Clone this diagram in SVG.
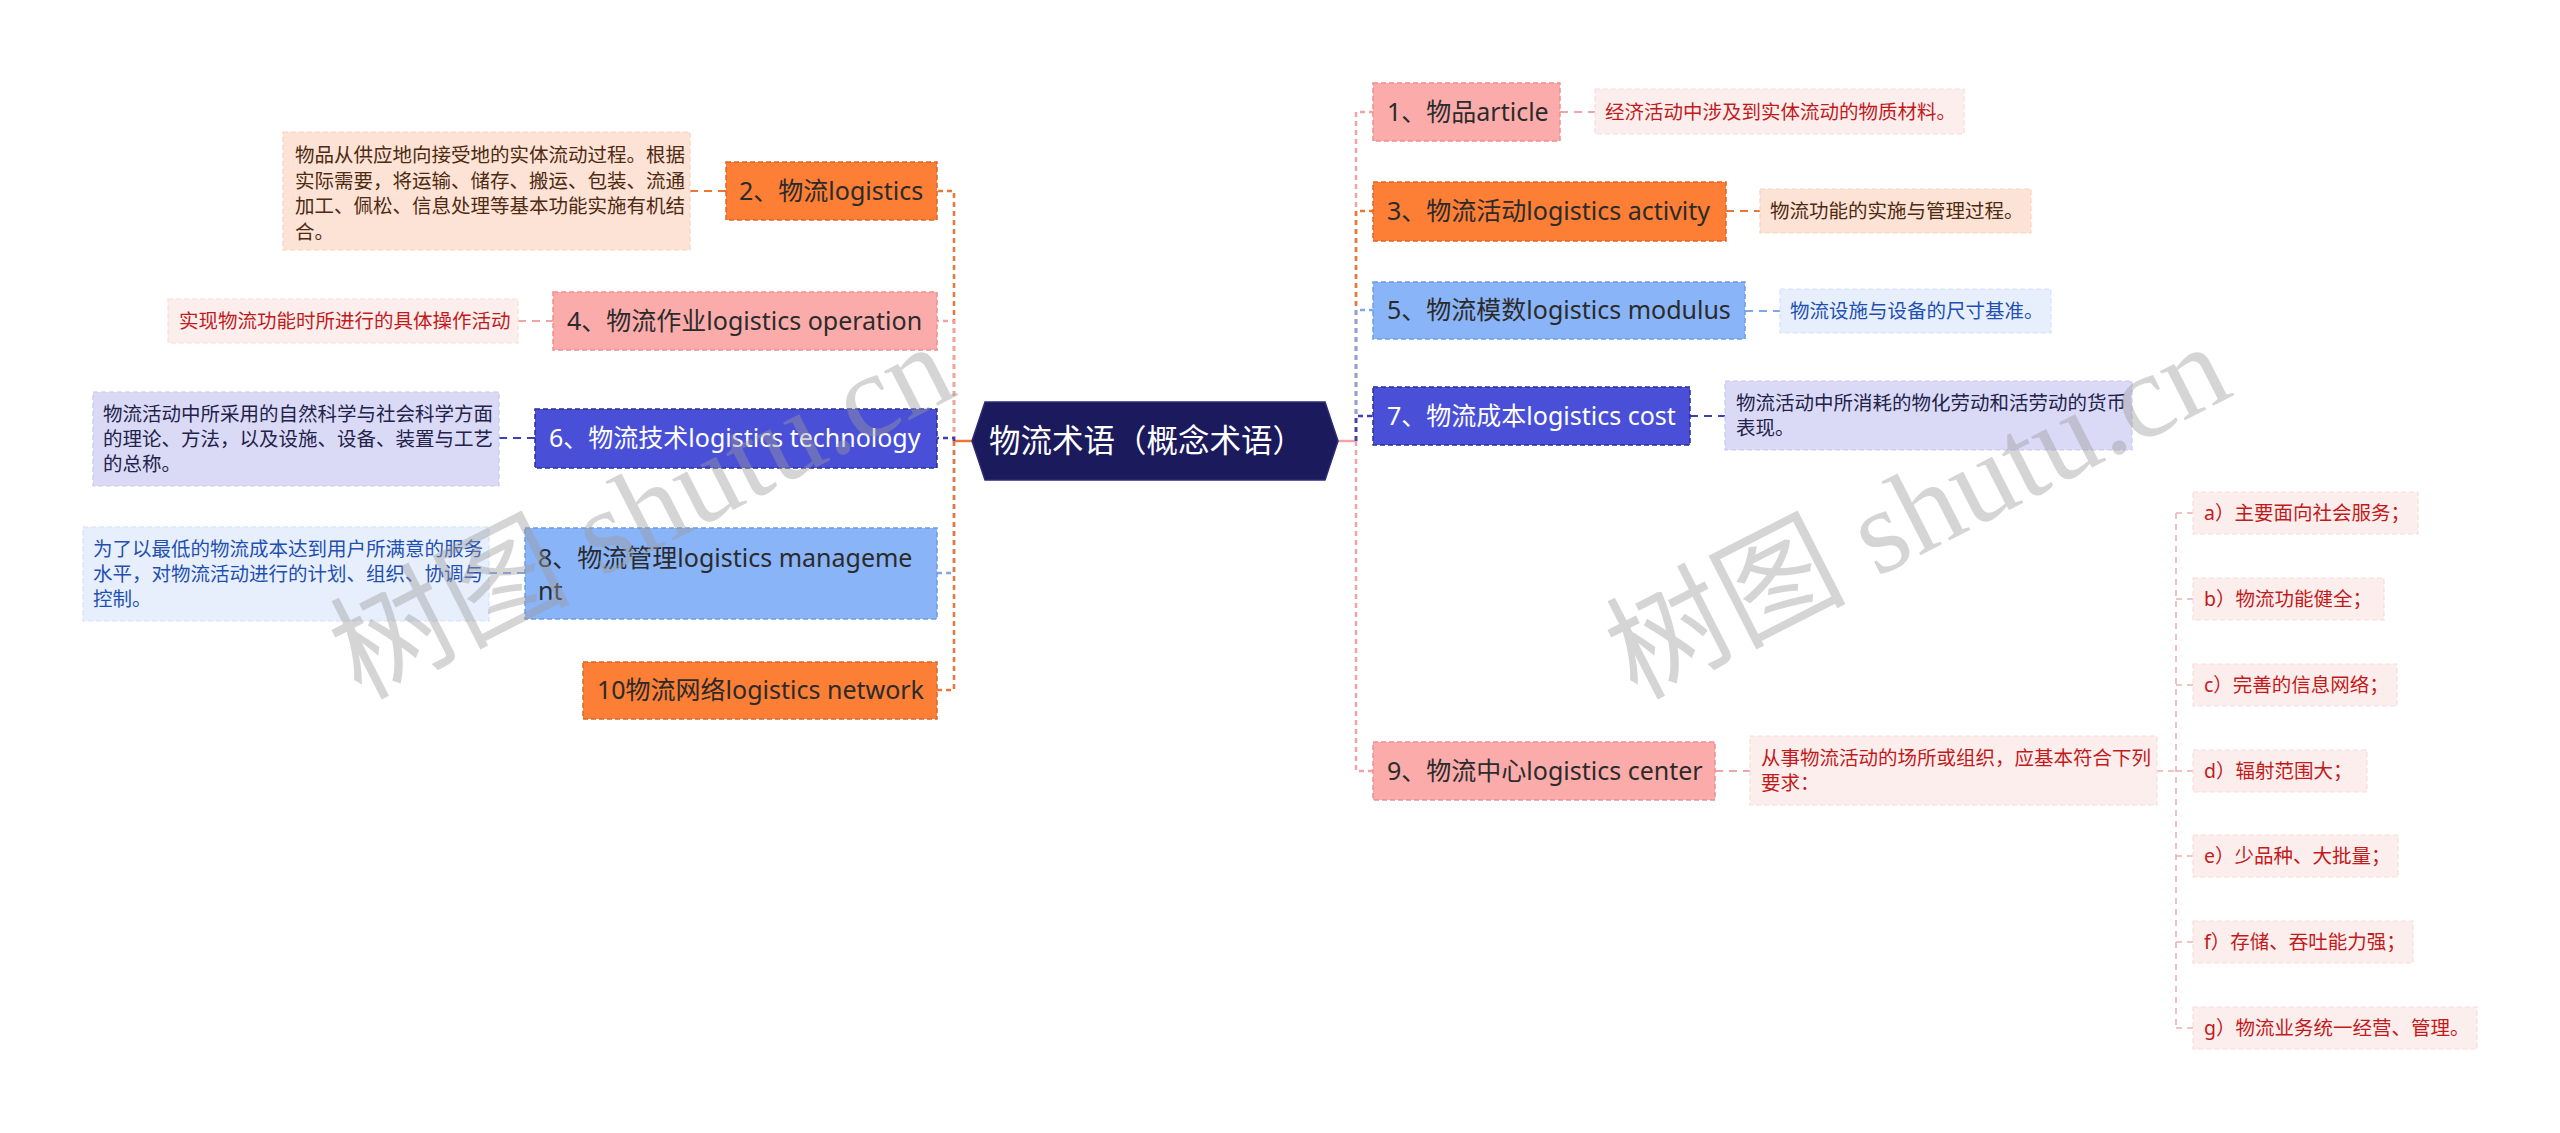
<svg xmlns="http://www.w3.org/2000/svg" width="2560" height="1133" viewBox="0 0 2560 1133">
<style>
text{font-family:"Noto Sans","Noto Sans CJK SC",sans-serif;}
.nt{font-size:25px;fill:#2b2b2b;}
.ntw{font-size:25px;fill:#ffffff;}
.dt{font-size:19.5px;}
.or{fill:#fd7e35;stroke:#de6426;stroke-width:1.5;stroke-dasharray:5 3;}
.pk{fill:#fcabab;stroke:#ee8f8f;stroke-width:1.5;stroke-dasharray:5 3;}
.db{fill:#4950d7;stroke:#2a2e9c;stroke-width:1.5;stroke-dasharray:5 3;}
.lb{fill:#8ab4f8;stroke:#6d9be4;stroke-width:1.5;stroke-dasharray:5 3;}
.dor{fill:#fde3d5;stroke:#f8d2bd;stroke-width:1.2;stroke-dasharray:5 3;}
.dpk{fill:#fdeeee;stroke:#f8dcdc;stroke-width:1.2;stroke-dasharray:5 3;}
.ddb{fill:#dadaf6;stroke:#c8c8ee;stroke-width:1.2;stroke-dasharray:5 3;}
.dlb{fill:#e7effd;stroke:#d4e2fa;stroke-width:1.2;stroke-dasharray:5 3;}
.tor{fill:#4d2a12;}
.tpk{fill:#c21a1a;}
.tdb{fill:#22224a;}
.tlb{fill:#1f4fb0;}
.c{fill:none;stroke-width:2.5;stroke-dasharray:5 4;}
.cd{fill:none;stroke-width:2;stroke-dasharray:8 6;}
.cs{fill:none;stroke-width:1.6;stroke-dasharray:6 5;stroke:#e9b3b3;}
.cor{stroke:#ec7634;}
.cpk{stroke:#f2a4a4;}
.cdb{stroke:#3a40b8;}
.clb{stroke:#7ea6ea;}
.wm{font-family:"Liberation Serif","Noto Sans CJK SC",serif;font-size:120px;fill:#9a9a9a;fill-opacity:0.42;}
</style>
<rect x="0" y="0" width="2560" height="1133" fill="#ffffff"/>

<g id="connectors">
  <line x1="954" y1="441" x2="972" y2="441" stroke="#ec7634" stroke-width="2.5"/>
  <line x1="1338" y1="441" x2="1356" y2="441" stroke="#f2a4a4" stroke-width="2.5"/>
  <path class="c cor" d="M954,441 V191 H937"/>
  <path class="c cpk" d="M954,441 V321 H937"/>
  <path class="c cdb" d="M954,441 V438 H937"/>
  <path class="c clb" d="M954,441 V573 H937"/>
  <path class="c cor" d="M954,441 V690 H937"/>
  <path class="c cpk" d="M1356,441 V112 H1373"/>
  <path class="c cor" d="M1356,441 V211 H1373"/>
  <path class="c clb" d="M1356,441 V310 H1373"/>
  <path class="c cdb" d="M1356,441 V416 H1373"/>
  <path class="c cpk" d="M1356,441 V771 H1373"/>
  <line class="cd cor" x1="690" y1="191" x2="726" y2="191"/>
  <line class="cd cpk" x1="518" y1="321" x2="553" y2="321"/>
  <line class="cd cdb" x1="499" y1="438" x2="535" y2="438"/>
  <line class="cd clb" x1="489" y1="573" x2="525" y2="573"/>
  <line class="cd cpk" x1="1560" y1="112" x2="1595" y2="112"/>
  <line class="cd cor" x1="1726" y1="211" x2="1760" y2="211"/>
  <line class="cd clb" x1="1745" y1="311" x2="1780" y2="311"/>
  <line class="cd cdb" x1="1690" y1="416" x2="1725" y2="416"/>
  <line class="cd cpk" x1="1715" y1="771" x2="1750" y2="771"/>
  <path class="cs" d="M2157,771 H2176"/>
  <path class="cs" d="M2176,513 V1028"/>
  <path class="cs" d="M2176,513 H2193 M2176,599 H2193 M2176,685 H2193 M2176,771 H2193 M2176,856 H2193 M2176,942 H2193 M2176,1028 H2193"/>
</g>

<g id="root">
  <polygon points="972,441 985,402 1325,402 1338,441 1325,480 985,480" fill="#1b1a5c" stroke="#2c2b78" stroke-width="1.5"/>
  <text x="989" y="452" style="font-size:31.5px;fill:#ffffff">物流术语（概念术语）</text>
</g>

<g id="n2"><rect class="or" x="726" y="162" width="211" height="58"/><text class="nt" x="739" y="200">2、物流logistics</text></g>
<g id="d2"><rect class="dor" x="283" y="132" width="407" height="118"/>
  <text class="dt tor" x="295" y="162">物品从供应地向接受地的实体流动过程。根据</text>
  <text class="dt tor" x="295" y="188">实际需要，将运输、储存、搬运、包装、流通</text>
  <text class="dt tor" x="295" y="213">加工、佩松、信息处理等基本功能实施有机结</text>
  <text class="dt tor" x="295" y="239">合。</text></g>

<g id="n4"><rect class="pk" x="553" y="292" width="384" height="58"/><text class="nt" x="567" y="330">4、物流作业logistics operation</text></g>
<g id="d4"><rect class="dpk" x="168" y="299" width="350" height="44"/><text class="dt tpk" x="179" y="328">实现物流功能时所进行的具体操作活动</text></g>

<g id="n6"><rect class="db" x="535" y="409" width="402" height="59"/><text class="ntw" x="549" y="447">6、物流技术logistics technology</text></g>
<g id="d6"><rect class="ddb" x="93" y="392" width="406" height="94"/>
  <text class="dt tdb" x="103" y="421">物流活动中所采用的自然科学与社会科学方面</text>
  <text class="dt tdb" x="103" y="446">的理论、方法，以及设施、设备、装置与工艺</text>
  <text class="dt tdb" x="103" y="471">的总称。</text></g>

<g id="n8"><rect class="lb" x="525" y="528" width="412" height="91"/>
  <text class="nt" x="538" y="567">8、物流管理logistics manageme</text>
  <text class="nt" x="538" y="600">nt</text></g>
<g id="d8"><rect class="dlb" x="83" y="527" width="406" height="94"/>
  <text class="dt tlb" x="93" y="556">为了以最低的物流成本达到用户所满意的服务</text>
  <text class="dt tlb" x="93" y="581">水平，对物流活动进行的计划、组织、协调与</text>
  <text class="dt tlb" x="93" y="606">控制。</text></g>

<g id="n10"><rect class="or" x="583" y="662" width="354" height="57"/><text class="nt" x="597" y="699">10物流网络logistics network</text></g>

<g id="n1"><rect class="pk" x="1373" y="83" width="187" height="58"/><text class="nt" x="1387" y="121">1、物品article</text></g>
<g id="d1"><rect class="dpk" x="1595" y="89" width="369" height="45"/><text class="dt tpk" x="1605" y="119">经济活动中涉及到实体流动的物质材料。</text></g>

<g id="n3"><rect class="or" x="1373" y="182" width="353" height="59"/><text class="nt" x="1387" y="220">3、物流活动logistics activity</text></g>
<g id="d3"><rect class="dor" x="1760" y="189" width="271" height="44"/><text class="dt tor" x="1770" y="218">物流功能的实施与管理过程。</text></g>

<g id="n5"><rect class="lb" x="1373" y="282" width="372" height="57"/><text class="nt" x="1387" y="319">5、物流模数logistics modulus</text></g>
<g id="d5"><rect class="dlb" x="1780" y="289" width="271" height="44"/><text class="dt tlb" x="1790" y="318">物流设施与设备的尺寸基准。</text></g>

<g id="n7"><rect class="db" x="1373" y="387" width="317" height="58"/><text class="ntw" x="1387" y="425">7、物流成本logistics cost</text></g>
<g id="d7"><rect class="ddb" x="1725" y="381" width="407" height="69"/>
  <text class="dt tdb" x="1736" y="410">物流活动中所消耗的物化劳动和活劳动的货币</text>
  <text class="dt tdb" x="1736" y="435">表现。</text></g>

<g id="n9"><rect class="pk" x="1373" y="742" width="342" height="58"/><text class="nt" x="1387" y="780">9、物流中心logistics center</text></g>
<g id="d9"><rect class="dpk" x="1750" y="736" width="407" height="69"/>
  <text class="dt tpk" x="1761" y="765">从事物流活动的场所或组织，应基本符合下列</text>
  <text class="dt tpk" x="1761" y="790">要求：</text></g>

<g id="ia"><rect class="dpk" x="2193" y="492" width="225" height="42"/><text class="dt tpk" x="2204" y="520">a）主要面向社会服务；</text></g>
<g id="ib"><rect class="dpk" x="2193" y="578" width="191" height="42"/><text class="dt tpk" x="2204" y="606">b）物流功能健全；</text></g>
<g id="ic"><rect class="dpk" x="2193" y="664" width="204" height="42"/><text class="dt tpk" x="2204" y="692">c）完善的信息网络；</text></g>
<g id="id"><rect class="dpk" x="2193" y="750" width="174" height="42"/><text class="dt tpk" x="2204" y="778">d）辐射范围大；</text></g>
<g id="ie"><rect class="dpk" x="2193" y="835" width="205" height="42"/><text class="dt tpk" x="2204" y="863">e）少品种、大批量；</text></g>
<g id="if"><rect class="dpk" x="2193" y="921" width="220" height="42"/><text class="dt tpk" x="2204" y="949">f）存储、吞吐能力强；</text></g>
<g id="ig"><rect class="dpk" x="2193" y="1007" width="284" height="42"/><text class="dt tpk" x="2204" y="1035">g）物流业务统一经营、管理。</text></g>

<g id="watermark">
  <text class="wm" x="360" y="700" transform="rotate(-27 360 700)">树图 shutu.cn</text>
  <text class="wm" x="1636" y="700" transform="rotate(-27 1636 700)">树图 shutu.cn</text>
</g>
</svg>
